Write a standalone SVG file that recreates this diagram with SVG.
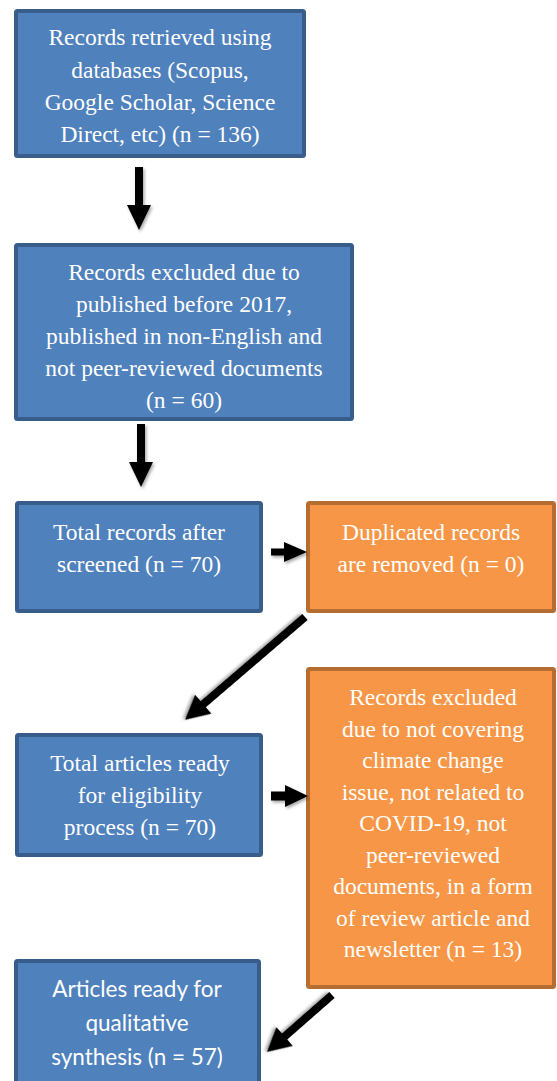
<svg xmlns="http://www.w3.org/2000/svg" width="557" height="1081" viewBox="0 0 557 1081">
  <defs>
    <filter id="sh" x="-20%" y="-20%" width="150%" height="150%">
      <feDropShadow dx="1.5" dy="2" stdDeviation="1.5" flood-color="#000" flood-opacity="0.35"/>
    </filter>
    <style>
      .blue { fill: #4f81bd; stroke: #385d8a; stroke-width: 4; }
      .orange { fill: #f79646; stroke: #b66d31; stroke-width: 4; }
      .t { font-family: "Liberation Serif", serif; font-size: 23.5px; fill: #ffffff; text-anchor: middle; }
      .s { font-family: Lato, sans-serif; font-size: 22.5px; fill: #ffffff; text-anchor: middle; }
      .arr { fill: #000000; filter: url(#sh); }
    </style>
  </defs>
  <rect width="557" height="1081" fill="#ffffff"/>

  <g id="node-retrieved">
    <rect class="blue" x="16" y="11" width="288" height="145" rx="1.5"/>
    <text class="t" x="160" y="45">Records retrieved using</text>
    <text class="t" x="160" y="78">databases (Scopus,</text>
    <text class="t" x="160" y="110">Google Scholar, Science</text>
    <text class="t" x="160" y="142">Direct, etc) (n = 136)</text>
  </g>

  <g id="node-excluded1">
    <rect class="blue" x="16" y="245" width="336" height="174" rx="1.5"/>
    <text class="t" x="184" y="280">Records excluded due to</text>
    <text class="t" x="184" y="312">published before 2017,</text>
    <text class="t" x="184" y="344">published in non-English and</text>
    <text class="t" x="184" y="376">not peer-reviewed documents</text>
    <text class="t" x="184" y="408">(n = 60)</text>
  </g>

  <g id="node-screened">
    <rect class="blue" x="17" y="503" width="244" height="108" rx="1.5"/>
    <text class="t" x="139" y="540">Total records after</text>
    <text class="t" x="139" y="572">screened (n = 70)</text>
  </g>

  <g id="node-duplicates">
    <rect class="orange" x="308" y="503" width="246" height="108" rx="1.5"/>
    <text class="t" x="431" y="540">Duplicated records</text>
    <text class="t" x="431" y="572">are removed (n = 0)</text>
  </g>

  <g id="node-eligibility">
    <rect class="blue" x="17" y="735" width="244" height="120" rx="1.5"/>
    <text class="t" x="140" y="771">Total articles ready</text>
    <text class="t" x="140" y="803">for eligibility</text>
    <text class="t" x="140" y="835">process (n = 70)</text>
  </g>

  <g id="node-excluded2">
    <rect class="orange" x="308" y="669" width="246" height="318" rx="1.5"/>
    <text class="t" x="433" y="705">Records excluded</text>
    <text class="t" x="433" y="737">due to not covering</text>
    <text class="t" x="433" y="768">climate change</text>
    <text class="t" x="433" y="800">issue, not related to</text>
    <text class="t" x="433" y="831">COVID-19, not</text>
    <text class="t" x="433" y="863">peer-reviewed</text>
    <text class="t" x="433" y="894">documents, in a form</text>
    <text class="t" x="433" y="926">of review article and</text>
    <text class="t" x="433" y="957">newsletter (n = 13)</text>
  </g>

  <g id="node-synthesis">
    <rect class="blue" x="16" y="961" width="243" height="130" rx="1.5"/>
    <text class="s" x="137" y="997">Articles ready for</text>
    <text class="s" x="137" y="1031">qualitative</text>
    <text class="s" x="137" y="1065">synthesis (n = 57)</text>
  </g>

  <g id="connectors">
    <polygon class="arr" points="135,167 143,167 143,205 151,205 139,230 127,205 135,205"/>
    <polygon class="arr" points="137,424 145,424 145,462 153,462 141,487 129,462 137,462"/>
    <polygon class="arr" points="271,548.5 284,548.5 284,542 307,552 284,562 284,555.5 271,555.5"/>
    <polygon class="arr" points="271,791.5 285,791.5 285,785 308,796 285,807 285,800.5 271,800.5"/>
    <polygon class="arr" transform="translate(305,617) rotate(139.4)" points="0,-4 134,-4 134,-12.5 158,0 134,12.5 134,4 0,4"/>
    <polygon class="arr" transform="translate(332,995) rotate(138.8)" points="0,-4 63,-4 63,-12.5 86.5,0 63,12.5 63,4 0,4"/>
  </g>
</svg>
